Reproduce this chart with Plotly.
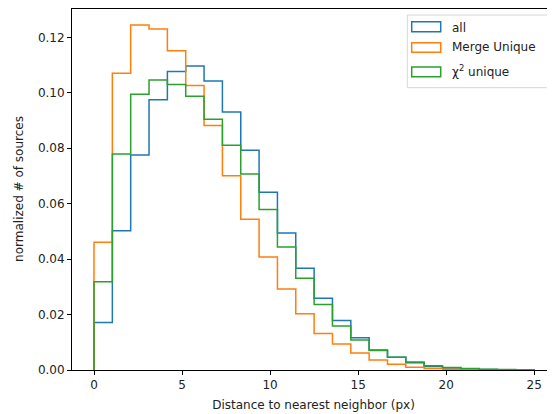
import numpy as np
import plotly.graph_objects as go

# bin edges: 24 equal bins from 0 to 25
bin_lo = 0.0
bin_hi = 25.0
n_bins = 24

all_vals = [0.0171, 0.0502, 0.0776, 0.0975, 0.1077, 0.1097, 0.1043, 0.0931,
            0.0793, 0.0641, 0.0494, 0.0367, 0.0259, 0.0179, 0.0116, 0.0072,
            0.0046, 0.0026, 0.0013, 0.0007, 0.0004, 0.0002, 0.0001, 0.00005]
merge_vals = [0.0461, 0.1071, 0.1245, 0.1230, 0.1152, 0.1026, 0.0882, 0.0701,
              0.0544, 0.0408, 0.0292, 0.0203, 0.0132, 0.0094, 0.0061, 0.0036,
              0.0021, 0.0010, 0.0005, 0.0003, 0.0002, 0.0001, 0.00005, 0.00002]
chi2_vals = [0.0318, 0.0779, 0.0995, 0.1046, 0.1030, 0.0988, 0.0905, 0.0811,
             0.0707, 0.0579, 0.0444, 0.0331, 0.0236, 0.0159, 0.0108, 0.0070,
             0.0046, 0.0029, 0.0015, 0.0009, 0.0005, 0.0003, 0.0002, 0.0001]

series_names = ["all", "Merge Unique", "χ<sup>2</sup> unique"]
series_colors = ["#1f77b4", "#ff7f0e", "#2ca02c"]

x_ticks = [0, 5, 10, 15, 20, 25]
y_ticks = [0.0, 0.02, 0.04, 0.06, 0.08, 0.10, 0.12]

edges = np.linspace(bin_lo, bin_hi, n_bins + 1)

# page has an 8px body margin; figure sized to fill the visible window
OFF = 8
W, H = 547, 406
ML, MR, MT, MB = 64, 0, 0, 44
PW, PH = W - ML - MR, H - MT - MB


def px(xp):  # page pixel -> paper x
    return (xp - OFF - ML) / PW


def py(yp):  # page pixel -> paper y
    return (H - MB - (yp - OFF)) / PH


fig = go.Figure()
for name, vals, col in zip(series_names, [all_vals, merge_vals, chi2_vals], series_colors):
    xs = [edges[0]] + list(edges[:-1]) + [edges[-1]]
    ys = [0.0] + list(vals) + [0.0]
    fig.add_trace(go.Scatter(
        x=xs, y=ys, mode="lines", line_shape="hv", name=name,
        line=dict(color=col, width=1.5), hoverinfo="skip", showlegend=False,
    ))

fig.update_layout(
    width=W, height=H,
    margin=dict(l=ML, r=MR, t=MT, b=MB),
    plot_bgcolor="white", paper_bgcolor="white",
    font=dict(family="DejaVu Sans", size=12, color="#222"),
    showlegend=False,
    xaxis=dict(
        range=[-1.25, 26.18], tickvals=x_ticks, ticktext=[str(t) for t in x_ticks],
        showgrid=False, zeroline=False, showline=True, linecolor="black", linewidth=1,
        ticks="outside", ticklen=4, tickcolor="black", automargin=False,
        title=dict(text="Distance to nearest neighbor (px)", standoff=9,
                   font=dict(size=12, color="#222")),
    ),
    yaxis=dict(
        range=[0, 0.1306], tickvals=y_ticks, ticktext=[f"{t:.2f}" for t in y_ticks],
        showgrid=False, zeroline=False, showline=True, linecolor="black", linewidth=1,
        ticks="outside", ticklen=4, tickcolor="black", automargin=False,
        title=dict(text="normalized # of sources", standoff=11,
                   font=dict(size=12, color="#222")),
    ),
)
# top spine
fig.add_shape(type="line", xref="paper", yref="paper", x0=0, x1=1, y0=py(8.5), y1=py(8.5),
              line=dict(color="black", width=1))

# legend (matplotlib-style patch legend)
fig.add_shape(type="rect", xref="paper", yref="paper",
              x0=px(407.3), x1=px(549), y0=py(87.7), y1=py(15),
              line=dict(color="#d6d6d6", width=1), fillcolor="rgba(255,255,255,0.8)")
icon_rows = [(21.7, 31.7, 27.7), (42.7, 52.3, 47.3), (67.0, 76.7, 71.0)]
for (y0, y1, yt), name, col in zip(icon_rows, series_names, series_colors):
    fig.add_shape(type="rect", xref="paper", yref="paper",
                  x0=px(411.7), x1=px(440.7), y0=py(y1), y1=py(y0),
                  line=dict(color=col, width=1.5), fillcolor="rgba(0,0,0,0)")
    fig.add_annotation(xref="paper", yref="paper", x=px(450.0), y=py(yt),
                       text=name, showarrow=False, xanchor="left", yanchor="middle",
                       font=dict(size=12, color="#222"))

fig.write_html("out.html")
